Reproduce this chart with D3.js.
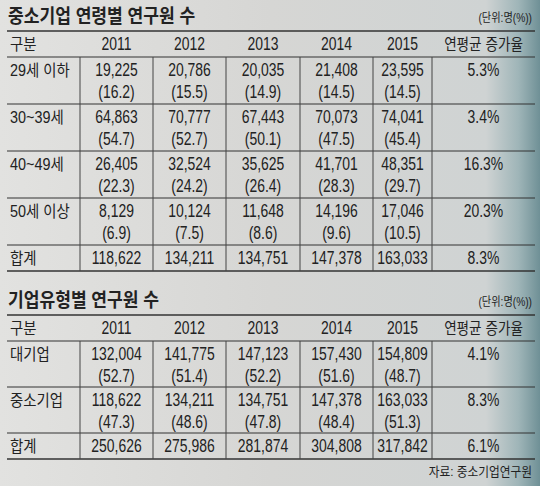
<!DOCTYPE html><html><head><meta charset="utf-8"><script src="https://cdn.jsdelivr.net/npm/d3@7"></script>
<style>body{margin:0;}svg{display:block;}text{font-family:"Liberation Sans","Noto Sans CJK KR",sans-serif;fill:#222;}</style></head><body>
<script>
const years=["2011","2012","2013","2014","2015"];
const growthHeader="연평균 증가율";
const t1Title="중소기업 연령별 연구원 수";
const t1Rows=["29세 이하","30~39세","40~49세","50세 이상","합계"];
const t1Values=[["19,225","20,786","20,035","21,408","23,595"],["64,863","70,777","67,443","70,073","74,041"],["26,405","32,524","35,625","41,701","48,351"],["8,129","10,124","11,648","14,196","17,046"],["118,622","134,211","134,751","147,378","163,033"]];
const t1Shares=[["16.2","15.5","14.9","14.5","14.5"],["54.7","52.7","50.1","47.5","45.4"],["22.3","24.2","26.4","28.3","29.7"],["6.9","7.5","8.6","9.6","10.5"],null];
const t1Growth=["5.3%","3.4%","16.3%","20.3%","8.3%"];
const t2Title="기업유형별 연구원 수";
const t2Rows=["대기업","중소기업","합계"];
const t2Values=[["132,004","141,775","147,123","157,430","154,809"],["118,622","134,211","134,751","147,378","163,033"],["250,626","275,986","281,874","304,808","317,842"]];
const t2Shares=[["52.7","51.4","52.2","51.6","48.7"],["47.3","48.6","47.8","48.4","51.3"],null];
const t2Growth=["4.1%","8.3%","6.1%"];
const unit="(단위:명(%))";
const source="자료: 중소기업연구원";

const W=540,H=486;
const svg=d3.select("body").append("svg").attr("width",W).attr("height",H);
const defs=svg.append("defs");
const g=defs.append("linearGradient").attr("id","bg");
[[0,"#e2e2e0"],[0.5,"#d6d6d4"],[0.9,"#cfd3d3"],[0.96,"#9fb5b8"],[1,"#6f9096"]].forEach(([o,c])=>g.append("stop").attr("offset",o).attr("stop-color",c));
svg.append("rect").attr("width",W).attr("height",H).attr("fill","url(#bg)");

const bounds=[7,80,153,226,300,373,432,535];
const colX=d3.scaleOrdinal().domain(d3.range(7)).range(d3.range(7).map(i=>(bounds[i]+bounds[i+1])/2));

function txt(x,y,s,size,anchor,sx,sy){
  return svg.append("g").attr("transform",`translate(${x},${y}) scale(${sx||0.82},${sy||1.08})`)
    .append("text").attr("text-anchor",anchor||"middle").attr("font-size",size).text(s);
}

function table(top,title,rows,vals,shares,growth,rowH){
  txt(8,top-8,title,19,"start",0.9,1).attr("font-weight","bold").attr("font-family","Noto Sans CJK KR");
  txt(532,top-9,unit,12,"end",0.85,1).attr("font-family","Noto Sans CJK KR");
  svg.append("line").attr("x1",7).attr("x2",535).attr("y1",top).attr("y2",top).attr("stroke","#333").attr("stroke-width",1.5);
  const hh=26;
  txt(10,top+19,"구분",16,"start",0.9,1).attr("font-family","Noto Sans CJK KR");
  years.forEach((y,i)=>txt(colX(i+1),top+19,y,17));
  txt(colX(6),top+19,growthHeader,16,"middle",0.85,1).attr("font-family","Noto Sans CJK KR");
  let y=top+hh;
  svg.append("line").attr("x1",7).attr("x2",535).attr("y1",y).attr("y2",y).attr("stroke","#333").attr("stroke-width",1.2);
  const y0=y;
  rows.forEach((r,ri)=>{
    const h=shares[ri]?rowH:26;
    txt(10,y+19,r,16,"start",0.9,1).attr("font-family","Noto Sans CJK KR");
    vals[ri].forEach((v,i)=>txt(colX(i+1),y+19,v,17));
    if(shares[ri]) shares[ri].forEach((v,i)=>txt(colX(i+1),y+41,"("+v+")",17));
    txt(colX(6),y+19,growth[ri],17);
    y+=h;
    svg.append("line").attr("x1",7).attr("x2",535).attr("y1",y).attr("y2",y).attr("stroke","#333").attr("stroke-width",ri===rows.length-1?1.5:1);
  });
  bounds.slice(1,7).forEach(b=>svg.append("line").attr("x1",b).attr("x2",b).attr("y1",y0).attr("y2",y).attr("stroke","#444").attr("stroke-width",1));
  return y;
}
table(31,t1Title,t1Rows,t1Values,t1Shares,t1Growth,47);
const e=table(315,t2Title,t2Rows,t2Values,t2Shares,t2Growth,46);
txt(532,e+17,source,13,"end",0.9,1).attr("font-family","Noto Sans CJK KR");
</script></body></html>
